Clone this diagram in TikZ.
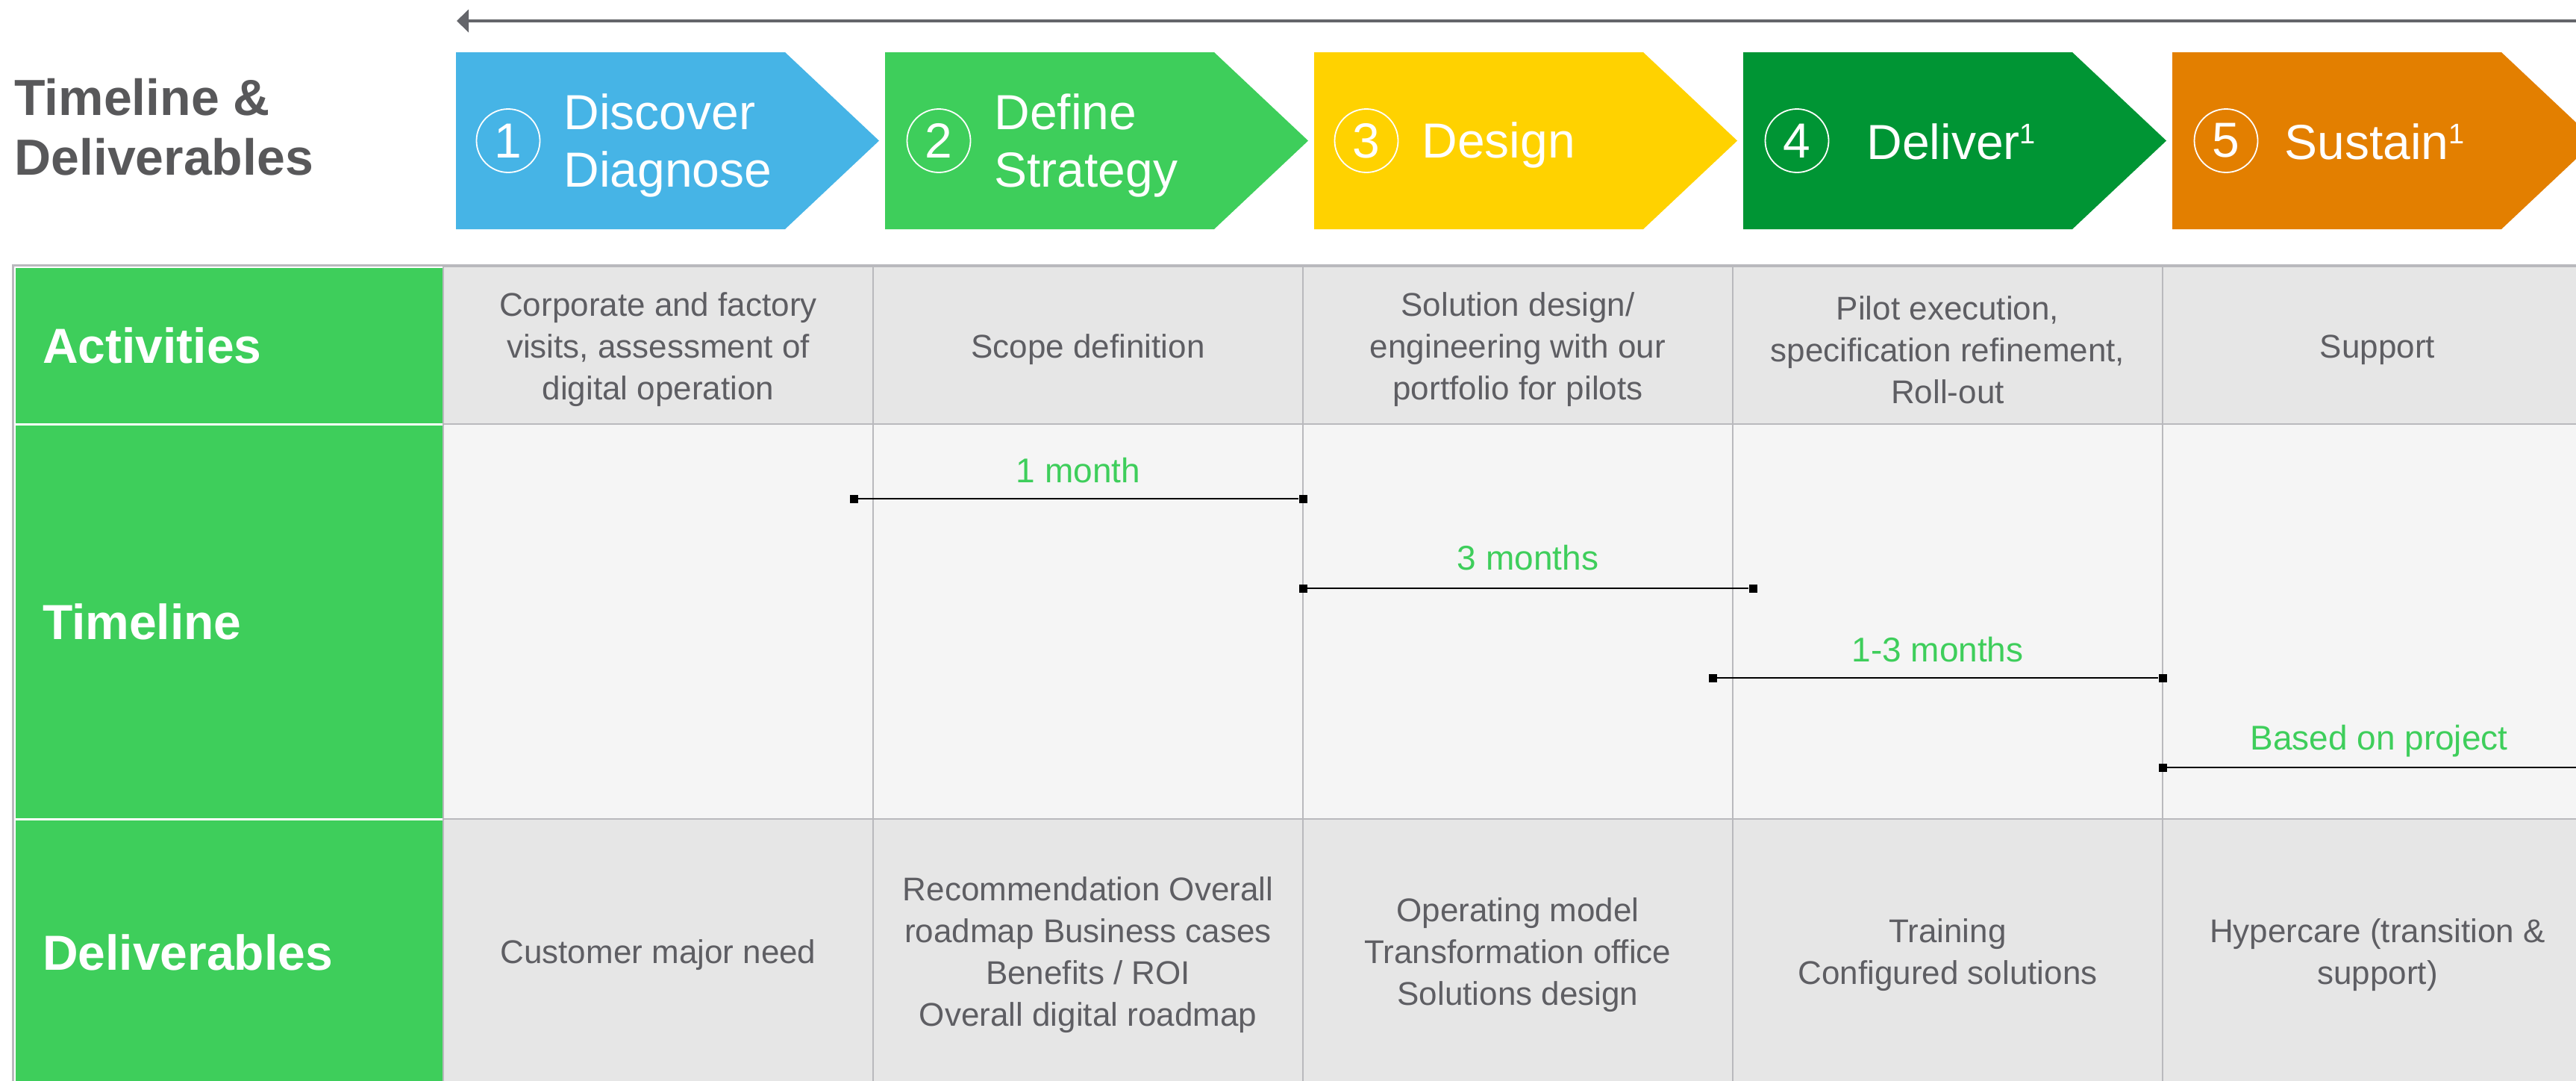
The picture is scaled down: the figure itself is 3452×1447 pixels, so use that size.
\documentclass[tikz,border=0pt]{standalone}
\usepackage{fontspec}
\setmainfont{Liberation Sans}
\usetikzlibrary{arrows.meta}
\definecolor{cBlue}{HTML}{46B4E6}
\definecolor{cLGreen}{HTML}{3ECE5B}
\definecolor{cYellow}{HTML}{FFD200}
\definecolor{cDGreen}{HTML}{009534}
\definecolor{cOrange}{HTML}{E37F00}
\definecolor{cText}{HTML}{5E5E63}
\definecolor{cTitle}{HTML}{58585A}
\definecolor{cArrow}{HTML}{64656A}
\definecolor{cGrid}{HTML}{B9B9BD}
\definecolor{cCellD}{HTML}{E6E6E6}
\definecolor{cCellL}{HTML}{F5F5F5}
\newcommand\mysupone{\raisebox{10.5pt}{\fontsize{19}{19}\selectfont 1}}
\begin{document}
\begin{tikzpicture}[x=0.5pt,y=-0.5pt,
  numcirc/.style={circle, draw=white, line width=0.9pt, minimum size=42.5pt, inner sep=0pt, text=white, font=\fontsize{33}{33}\selectfont},
  chevtext/.style={anchor=west, inner sep=0pt, text=white, align=left, font=\fontsize{33}{38.5}\selectfont},
  labcell/.style={rectangle, fill=cLGreen, draw=white, line width=1.5pt, minimum width=287.5pt, text width=249.5pt, inner xsep=19pt, inner ysep=0pt, align=left, text=white, font=\bfseries\fontsize{33}{38}\selectfont},
  datacell/.style={rectangle, draw=cGrid, line width=1.4pt, minimum width=288pt, align=center, text=cText, font=\fontsize{22}{28}\selectfont, inner sep=0pt},
  celltext/.style={align=center, text=cText, font=\fontsize{22}{28}\selectfont, inner sep=0pt, yshift=-3pt},
  rowA/.style={datacell, fill=cCellD, minimum height=105.5pt},
  rowT/.style={datacell, fill=cCellL, minimum height=264.5pt},
  rowD/.style={datacell, fill=cCellD, minimum height=179pt},
  endsq/.style={rectangle, fill=black, minimum size=5.5pt, inner sep=0pt},
  barline/.style={line width=1.4pt, black},
  tlabel/.style={text=cLGreen, font=\fontsize{23}{28}\selectfont, anchor=base, inner sep=0pt, yshift=11pt}
]
\useasboundingbox (0,0) rectangle (3452,1447);
\clip (0,0) rectangle (3452,1447);

% top arrow
\coordinate (arrowR) at (3470,28);
\coordinate (arrowL) at (612,28);
\draw[cArrow, line width=2.2pt, -{Triangle[length=8pt,width=15pt]}] (arrowR) -- (arrowL);

% title
\node[anchor=west, inner sep=0pt, align=left, text=cTitle, font=\bfseries\fontsize{34}{40}\selectfont] (title) at (19,170.5) {Timeline \&\\Deliverables};

% chevrons
\foreach \s/\c in {611/cBlue,1186/cLGreen,1761/cYellow,2336/cDGreen,2911/cOrange}
  \fill[\c] (\s,70) -- ++(441,0) -- ++(126,118.5) -- ++(-126,118.5) -- ++(-441,0) -- cycle;

\node[numcirc] (n1) at (681,188.5) {1};
\node[numcirc] (n2) at (1258,188.5) {2};
\node[numcirc] (n3) at (1831,188.5) {3};
\node[numcirc] (n4) at (2408,188.5) {4};
\node[numcirc] (n5) at (2983,188.5) {5};

\node[chevtext] (t1) at (755,195) {Discover\\Diagnose};
\node[chevtext] (t2) at (1332,195) {Define\\Strategy};
\node[chevtext] (t3) at (1905,194.5) {Design};
\node[chevtext] (t4) at (2501,189.5) {Deliver\mysupone};
\node[chevtext] (t5) at (3061,189.5) {Sustain\mysupone};

% label column
\node[labcell, minimum height=105.5pt] (labA) at (306.5,462.5) {Activities};
\node[labcell, minimum height=264.5pt] (labT) at (306.5,832.5) {Timeline};
\node[labcell, minimum height=179pt] (labD) at (306.5,1276) {Deliverables};

% activities row
\node[rowA] (a1) at (882,462.5) {};
\node[rowA] (a2) at (1458,462.5) {};
\node[rowA] (a3) at (2034,462.5) {};
\node[rowA] (a4) at (2610,462.5) {};
\node[rowA] (a5) at (3186,462.5) {};
\node[celltext] (a1t) at (a1) {Corporate and factory\\visits, assessment of\\digital operation};
\node[celltext] (a2t) at (a2) {Scope definition};
\node[celltext] (a3t) at (a3) {Solution design/\\engineering with our\\portfolio for pilots};
\node[celltext] (a4t) at (a4) {Pilot execution,\\specification refinement,\\Roll-out};
\node[celltext] (a5t) at (a5) {Support};

% timeline row
\node[rowT] (m1) at (882,832.5) {};
\node[rowT] (m2) at (1458,832.5) {};
\node[rowT] (m3) at (2034,832.5) {};
\node[rowT] (m4) at (2610,832.5) {};
\node[rowT] (m5) at (3186,832.5) {};

% deliverables row
\node[rowD] (d1) at (882,1276) {};
\node[rowD] (d2) at (1458,1276) {};
\node[rowD] (d3) at (2034,1276) {};
\node[rowD] (d4) at (2610,1276) {};
\node[rowD] (d5) at (3186,1276) {};
\node[celltext, yshift=1.5pt] (d1t) at (d1) {Customer major need};
\node[celltext, yshift=1.5pt] (d2t) at (d2) {Recommendation Overall\\roadmap Business cases\\Benefits / ROI\\Overall digital roadmap};
\node[celltext, yshift=1.5pt] (d3t) at (d3) {Operating model\\Transformation office\\Solutions design};
\node[celltext, yshift=1.5pt] (d4t) at (d4) {Training\\Configured solutions};
\node[celltext, yshift=1.5pt] (d5t) at (d5) {Hypercare (transition \&\\support)};

% outer border
\draw[cGrid, line width=1.4pt] (labD.south west) -- (labA.north west) -- (a5.north east);

% timeline bars
\node[endsq] (b1s) at (1144,668) {};
\node[endsq] (b1e) at (1746,668) {};
\node[endsq] (b2s) at (1746,788) {};
\node[endsq] (b2e) at (2349,788) {};
\node[endsq] (b3s) at (2295,908) {};
\node[endsq] (b3e) at (2898,908) {};
\node[endsq] (b4s) at (2898,1028) {};
\coordinate (b4e) at (3472,1028);

\draw[barline] (b1s) -- node[tlabel, midway] (l1) {1 month} (b1e);
\draw[barline] (b2s) -- node[tlabel, midway, yshift=1.5pt] (l2) {3 months} (b2e);
\draw[barline] (b3s) -- node[tlabel, midway] (l3) {1-3 months} (b3e);
\draw[barline] (b4s) -- node[tlabel, midway, yshift=1pt] (l4) {Based on project} (b4e);
\end{tikzpicture}
\end{document}
